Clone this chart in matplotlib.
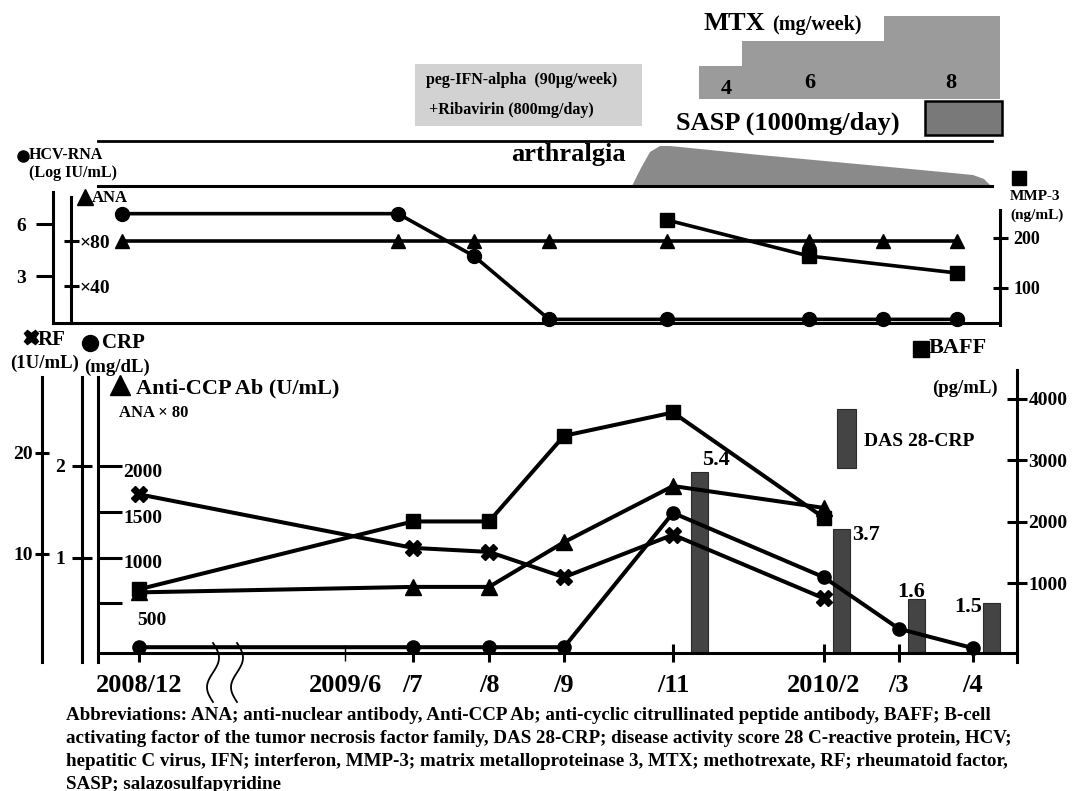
import matplotlib
matplotlib.use('Agg')
import matplotlib.pyplot as plt
import matplotlib.transforms as mtransforms
from matplotlib.patches import Rectangle, Polygon
from matplotlib.ticker import FixedLocator, FixedFormatter, NullLocator
import numpy as np

plt.rcParams['font.family'] = ['Liberation Serif', 'DejaVu Sans']
plt.rcParams['font.weight'] = 'bold'

# ---------------- data ----------------
dates = ['2008/12', '/7', '/8', '/9', '/11', '2010/2', '/3', '/4']
gap_label = '2009/6'

# upper panel
hcv_rna = [6.6, 6.6, 4.15, 0.5, 0.5, 0.5, 0.5, 0.5]      # log IU/mL
ana_titer = [80, 80, 80, 80, 80, 80, 80, 80]               # x titer
mmp3_dates = ['/11', '2010/2', '/4']
mmp3 = [236, 164, 130]                                     # ng/mL

# lower panel
crp = [0.03, 0.03, 0.03, 0.03, 1.49, 0.79, 0.23, 0.02]    # mg/dL
lab_dates = ['2008/12', '/7', '/8', '/9', '/11', '2010/2']
anti_ccp = [620, 680, 680, 1170, 1785, 1545]               # U/mL
rf = [15.9, 10.6, 10.2, 7.7, 11.9, 5.6]                    # IU/mL
baff = [900, 2005, 2005, 3400, 3780, 2065]                 # pg/mL
das_dates = ['/11', '2010/2', '/3', '/4']
das28 = [5.4, 3.7, 1.6, 1.5]

mtx_dose = [4, 6, 8]                                       # mg/week

abbrev_lines = [
    "Abbreviations: ANA; anti-nuclear antibody, Anti-CCP Ab; anti-cyclic citrullinated peptide antibody, BAFF; B-cell",
    "activating factor of the tumor necrosis factor family, DAS 28-CRP; disease activity score 28 C-reactive protein, HCV;",
    "hepatitic C virus, IFN; interferon, MMP-3; matrix metalloproteinase 3, MTX; methotrexate, RF; rheumatoid factor,",
    "SASP; salazosulfapyridine",
]

# ---------------- layout ----------------
x_low = [0.0, 3.653, 4.667, 5.667, 7.12, 9.133, 10.133, 11.12]
x_gap = 2.747
x_up = [-0.227, 3.453, 4.467, 5.467, 7.04, 8.933, 9.92, 10.907]
das_offset = [0.35, 0.23, 0.24, 0.25]
das_label_style = [('left', 3, 12), ('left', 11, -6), ('center', -6, 7), ('right', -10, -4)]
mtx_start = [7.467, 8.04, 9.933]
mtx_end = 11.48

LOW_XLIM = (-0.547, 11.707)
UP_XLIM = (-1.147, 11.48)

W, H = 1074, 791
fig = plt.figure(figsize=(W / 100, H / 100), dpi=100)

K = 'black'
LW_AX = 2.2


def rect(x0, y_top, x1, y_bot):
    return [x0 / W, 1 - y_bot / H, (x1 - x0) / W, (y_bot - y_top) / H]


def make_ax(r, xlim, ylim, z):
    a = fig.add_axes(r, zorder=z)
    a.set_xlim(*xlim)
    a.set_ylim(*ylim)
    a.patch.set_visible(False)
    for s in a.spines.values():
        s.set_visible(False)
        s.set_linewidth(LW_AX)
    for ax_ in (a.xaxis, a.yaxis):
        ax_.set_major_locator(NullLocator())
        ax_.set_minor_locator(NullLocator())
    return a


def ypx(a, y):
    return a.transData.inverted().transform((0, H - y))[1]


x_of = dict(zip(dates, x_low))
xu_of = dict(zip(dates, x_up))

# ================= lower panel =================
low_rect = rect(98, 370, 1017, 653)
ax_das = make_ax(low_rect, LOW_XLIM, (0, 8.45), 1)
ax_baff = make_ax(low_rect, LOW_XLIM, (-138, 4472), 2)
ax_rf = make_ax(low_rect, LOW_XLIM, (0.198, 28.2), 3)
ax_crp = make_ax(low_rect, LOW_XLIM, (-0.033, 3.043), 4)
ax_ccp = make_ax(low_rect, LOW_XLIM, (-44, 3056), 5)

# DAS28 bars
das_x = [x_of[d] + o for d, o in zip(das_dates, das_offset)]
ax_das.bar(das_x, das28, width=0.227, color='#444444', edgecolor='#2a2a2a', linewidth=0.8)
for xb, v, (ha, dx, dy) in zip(das_x, das28, das_label_style):
    tr = mtransforms.offset_copy(ax_das.transData, fig=fig, x=dx, y=dy, units='dots')
    ax_das.text(xb, v, f'{v:.1f}', transform=tr, ha=ha, va='center', fontsize=16)

# anti-CCP axis (innermost left)
sp = ax_ccp.spines['left']
sp.set_visible(True)
sp.set_bounds(ypx(ax_ccp, 662), ypx(ax_ccp, 377))
ax_ccp.spines['bottom'].set_visible(True)
ccp_ticks = [500, 1000, 1500, 2000]
ax_ccp.yaxis.set_major_locator(FixedLocator(ccp_ticks))
ax_ccp.tick_params(axis='y', direction='in', length=17, width=LW_AX, labelleft=False)
blend = mtransforms.blended_transform_factory(ax_ccp.transAxes, ax_ccp.transData)
for v in ccp_ticks:
    if v == 500:
        xf, dy = (137 - 98) / 919, -17
    else:
        xf, dy = (123 - 98) / 919, -6
    tr = mtransforms.offset_copy(blend, fig=fig, y=dy, units='dots')
    ax_ccp.text(xf, v, str(v), transform=tr, ha='left', va='center', fontsize=14)

# x axis
ax_ccp.xaxis.set_major_locator(FixedLocator(x_low))
ax_ccp.xaxis.set_major_formatter(FixedFormatter(dates))
ax_ccp.xaxis.set_minor_locator(FixedLocator([x_gap]))
ax_ccp.xaxis.set_minor_formatter(FixedFormatter([gap_label]))
ax_ccp.tick_params(axis='x', which='major', direction='inout', length=13, width=LW_AX,
                   labelsize=19, pad=8.8)
ax_ccp.tick_params(axis='x', which='minor', direction='inout', length=11.5, width=1,
                   labelsize=19, pad=9.55)

# CRP axis
sp = ax_crp.spines['left']
sp.set_visible(True)
sp.set_position(('outward', 16 * 0.72))
sp.set_bounds(ypx(ax_crp, 662), ypx(ax_crp, 377))
ax_crp.yaxis.set_major_locator(FixedLocator([1, 2]))
ax_crp.yaxis.set_major_formatter(FixedFormatter(['1', '2']))
ax_crp.tick_params(axis='y', direction='inout', length=14.4, width=LW_AX, labelsize=14, pad=5)

# RF axis
sp = ax_rf.spines['left']
sp.set_visible(True)
sp.set_position(('outward', 56 * 0.72))
sp.set_bounds(ypx(ax_rf, 662), ypx(ax_rf, 377))
ax_rf.yaxis.set_major_locator(FixedLocator([10, 20]))
ax_rf.yaxis.set_major_formatter(FixedFormatter(['10', '20']))
ax_rf.tick_params(axis='y', direction='inout', length=9.4, width=LW_AX, labelsize=14, pad=2)

# BAFF axis (right)
sp = ax_baff.spines['right']
sp.set_visible(True)
sp.set_bounds(ypx(ax_baff, 662), ypx(ax_baff, 370))
ax_baff.yaxis.tick_right()
ax_baff.yaxis.set_major_locator(FixedLocator([1000, 2000, 3000, 4000]))
ax_baff.yaxis.set_major_formatter(FixedFormatter(['1000', '2000', '3000', '4000']))
ax_baff.tick_params(axis='y', direction='inout', length=14.4, width=LW_AX, labelsize=14, pad=1)

# lower series
LW = 2.9
ax_crp.plot(x_low, crp, '-o', color=K, lw=LW, ms=9.5, clip_on=False)
lab_x = [x_of[d] for d in lab_dates]
ax_ccp.plot(lab_x, anti_ccp, '-^', color=K, lw=LW, ms=11, clip_on=False)
ax_rf.plot(lab_x, rf, '-X', color=K, lw=LW, ms=11, clip_on=False)
ax_baff.plot(lab_x, baff, '-s', color=K, lw=LW, ms=10, clip_on=False)

# ================= upper panel =================
up_rect = rect(53, 192, 1000, 323)
ax_hcv = make_ax(up_rect, UP_XLIM, (0.29, 7.85), 5)
ax_ana = make_ax(up_rect, UP_XLIM, (7.1, 123.6), 6)
ax_mmp = make_ax(up_rect, UP_XLIM, (30, 292), 7)

ax_hcv.spines['left'].set_visible(True)
ax_hcv.spines['bottom'].set_visible(True)
ax_hcv.yaxis.set_major_locator(FixedLocator([3, 6]))
ax_hcv.yaxis.set_major_formatter(FixedFormatter(['3', '6']))
ax_hcv.tick_params(axis='y', direction='out', length=12.2, width=LW_AX, labelsize=14, pad=7)

sp = ax_ana.spines['right']
sp.set_visible(True)
sp.set_position(('axes', 18 / 947))
sp.set_bounds(7.1, ypx(ax_ana, 197))
ax_ana.yaxis.tick_right()
ax_ana.yaxis.set_major_locator(FixedLocator([40, 80]))
ax_ana.yaxis.set_major_formatter(FixedFormatter(['\u00d740', '\u00d780']))
ax_ana.tick_params(axis='y', direction='inout', length=10.8, width=LW_AX, labelsize=14, pad=1)

sp = ax_mmp.spines['right']
sp.set_visible(True)
sp.set_bounds(ypx(ax_mmp, 325), ypx(ax_mmp, 210))
ax_mmp.yaxis.tick_right()
ax_mmp.yaxis.set_major_locator(FixedLocator([100, 200]))
ax_mmp.yaxis.set_major_formatter(FixedFormatter(['100', '200']))
ax_mmp.tick_params(axis='y', direction='inout', length=10.8, width=LW_AX, labelsize=13, pad=4)

LWU = 2.6
ax_hcv.plot(x_up, hcv_rna, '-o', color=K, lw=LWU, ms=10, clip_on=False)
ax_ana.plot(x_up, ana_titer, '-^', color=K, lw=LWU, ms=10.5, clip_on=False)
ax_mmp.plot([xu_of[d] for d in mmp3_dates], mmp3, '-s', color=K, lw=LWU, ms=10.5, clip_on=False)

# MTX staircase
ax_mtx = make_ax(rect(53, 16, 1000, 99), UP_XLIM, (1.36, 8), 1)
ax_mtx.fill_between(mtx_start + [mtx_end], 1.36, mtx_dose + [mtx_dose[-1]], step='post',
                    color='#9b9b9b', lw=0)

# ================= overlay (annotations) =================
ov = fig.add_axes([0, 0, 1, 1], zorder=8)
ov.set_xlim(0, W)
ov.set_ylim(H, 0)
ov.axis('off')
ov.patch.set_visible(False)


def t(x, y, s, size, ha='left', va='center', **kw):
    ov.text(x, y, s, fontsize=size, ha=ha, va=va, **kw)


def key(x, y, marker, ms):
    ov.plot([x], [y], marker=marker, ms=ms, color=K, linestyle='none', clip_on=False)


# treatment boxes
ov.add_patch(Rectangle((415, 64), 227, 62, facecolor='#d2d2d2', edgecolor='none'))
t(426, 80, 'peg-IFN-alpha  (90\u00b5g/week)', 11.5)
t(429, 110, '+Ribavirin (800mg/day)', 11.5)
t(703, 23, 'MTX', 19)
t(772, 25, '(mg/week)', 14.5)
t(726, 89, '4', 16, ha='center')
t(810, 83, '6', 16, ha='center')
t(951, 83, '8', 16, ha='center')
ov.add_patch(Rectangle((925, 101), 77, 34, facecolor='#797979', edgecolor='black', lw=1.8))
t(676, 123, 'SASP (1000mg/day)', 19)

# arthralgia band
ov.plot([98, 992], [141, 141], color=K, lw=2.0)
ov.plot([98, 992], [186, 186], color=K, lw=2.2)
arth = [(632, 186), (641, 168), (650, 152), (660, 146), (670, 146), (760, 155),
        (900, 168), (973, 175), (984, 179), (991, 186)]
ov.add_patch(Polygon(arth, closed=True, facecolor='#8a8a8a', edgecolor='none'))
t(568, 154, 'arthralgia', 19, ha='center')

# upper panel labels
key(22.5, 156, 'o', 8)
t(29, 155, 'HCV-RNA', 11.5)
t(29, 173, '(Log IU/mL)', 11.5)
key(84.5, 197, '^', 11)
t(92, 198, 'ANA', 12)
key(1018.5, 178, 's', 10.5)
t(1010, 197, 'MMP-3', 11)
t(1010, 215, '(ng/mL)', 11)

# lower panel labels
key(31, 337, 'X', 10.5)
t(38, 340, 'RF', 15)
t(10, 363, '(1U/mL)', 13.5)
key(90, 343, 'o', 11.5)
t(102, 343, 'CRP', 15)
t(84, 367, '(mg/dL)', 13.5)
key(120, 385, '^', 14)
t(136, 388, 'Anti-CCP Ab (U/mL)', 16)
t(119, 413, 'ANA \u00d7 80', 12)
key(920.5, 349, 's', 12)
t(929, 348, 'BAFF', 16)
t(932, 388, '(pg/mL)', 13.5)
ov.add_patch(Rectangle((837, 409), 19, 59, facecolor='#444444', edgecolor='#2a2a2a', lw=0.8))
t(864, 442, 'DAS 28-CRP', 14)

# axis break marks
tt = np.linspace(0, 1, 60)
for x0 in (213, 237):
    ov.plot(x0 + 6 * np.sin(2 * np.pi * tt), 643 + 59 * tt, color=K, lw=1.3)

# abbreviations
for i, line in enumerate(abbrev_lines):
    t(66, 716 + 22.7 * i, line, 13.7)

fig.savefig('out.png', dpi=100)
